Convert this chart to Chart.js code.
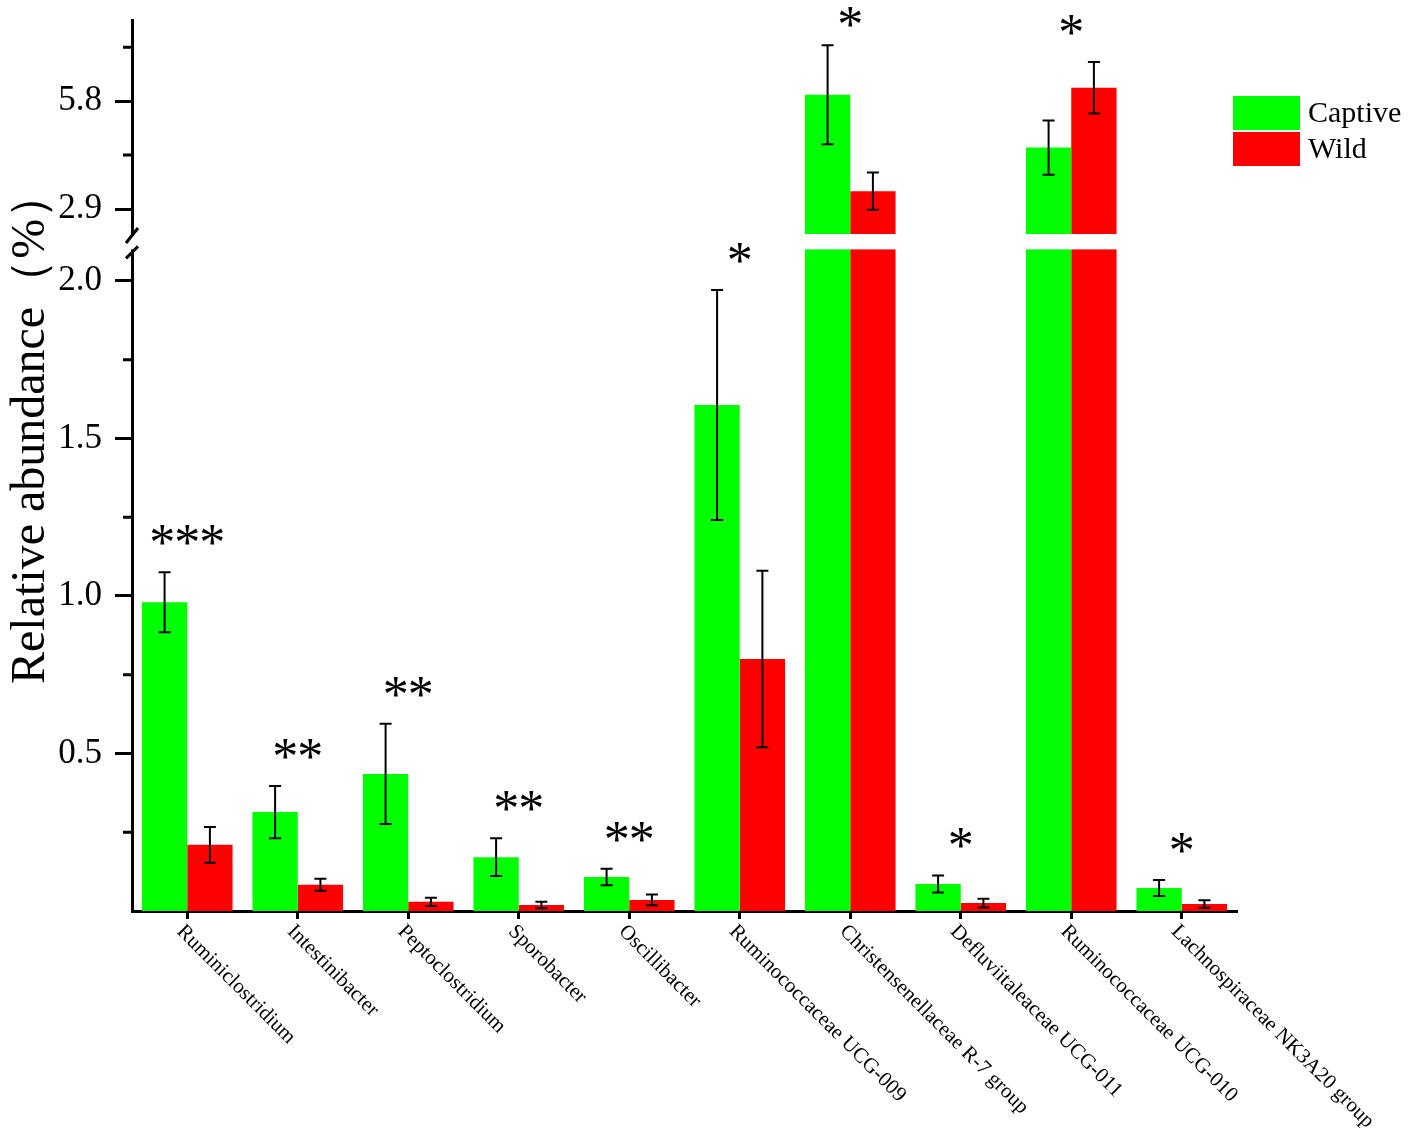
<!DOCTYPE html>
<html>
<head>
<meta charset="utf-8">
<script src="https://cdn.jsdelivr.net/npm/chart.js@4.4.1/dist/chart.umd.min.js"></script>
<style>
  html, body { margin: 0; padding: 0; background: #fff; }
  #wrap { width: 1411px; height: 1137px; }
</style>
</head>
<body>
<div id="wrap"><canvas id="chart" width="1411" height="1137"></canvas></div>
<script>
const genera = ['Ruminiclostridium', 'Intestinibacter', 'Peptoclostridium', 'Sporobacter', 'Oscillibacter',
  'Ruminococcaceae UCG-009', 'Christensenellaceae R-7 group', 'Defluviitaleaceae UCG-011',
  'Ruminococcaceae UCG-010', 'Lachnospiraceae NK3A20 group'];
const captive    = [0.98, 0.314, 0.435, 0.171, 0.108, 1.606, 5.97, 0.086, 4.55, 0.073];
const captiveErr = [0.095, 0.083, 0.159, 0.060, 0.026, 0.365, 1.33, 0.027, 0.73, 0.025];
const wild       = [0.21, 0.083, 0.029, 0.019, 0.035, 0.80, 3.38, 0.025, 6.16, 0.022];
const wildErr    = [0.057, 0.019, 0.013, 0.010, 0.017, 0.28, 0.50, 0.014, 0.69, 0.012];
const stars      = ['***', '**', '**', '**', '**', '*', '*', '*', '*', '*'];

// broken y axis: lower part and upper part
const lowerMin = 0, lowerMax = 2.152, breakTop = 2.1;
const upperMin = 2.255, upperMax = 7.98;
const lowerTicks = [0.5, 1.0, 1.5, 2.0];
const lowerMinor = [0.25, 0.75, 1.25, 1.75];
const upperTicks = [2.9, 5.8];
const upperMinor = [4.35, 7.25];

const GREEN = '#00ff00';
const RED = '#ff0000';
const SERIF = '"Liberation Serif", "Times New Roman", serif';

const extras = {
  id: 'extras',
  beforeDatasetDraw(chart, args){
    const ys = chart.scales[args.meta.yAxisID];
    const a = chart.chartArea;
    const ctx = chart.ctx;
    ctx.save();
    ctx.beginPath();
    ctx.rect(a.left, ys.top, a.right - a.left, ys.bottom - ys.top);
    ctx.clip();
  },
  afterDatasetDraw(chart, args){
    const ctx = chart.ctx;
    const meta = args.meta;
    const ys = chart.scales[meta.yAxisID];
    const ds = chart.data.datasets[args.index];
    ctx.strokeStyle = '#000';
    ctx.lineWidth = 2;
    meta.data.forEach((bar, i) => {
      const v = ds.data[i], e = ds.err[i];
      const yTop = ys.getPixelForValue(v + e);
      const yBot = ys.getPixelForValue(v - e);
      ctx.beginPath();
      ctx.moveTo(bar.x, yBot); ctx.lineTo(bar.x, yTop);
      ctx.moveTo(bar.x - 6, yTop); ctx.lineTo(bar.x + 6, yTop);
      ctx.moveTo(bar.x - 6, yBot); ctx.lineTo(bar.x + 6, yBot);
      ctx.stroke();
    });
    ctx.restore();
  },
  afterDraw(chart){
    const ctx = chart.ctx;
    const a = chart.chartArea;
    const x = chart.scales.x, yl = chart.scales.y, yu = chart.scales.y2;
    ctx.save();

    // gap of the broken axis
    const gapTop = yu.bottom;
    const gapBot = yl.getPixelForValue(breakTop);
    ctx.fillStyle = '#fff';
    ctx.fillRect(a.left - 4, gapTop + 1, a.right - a.left + 4, gapBot - gapTop - 1);
    ctx.strokeStyle = '#000';
    ctx.lineWidth = 3;
    ctx.beginPath();
    ctx.moveTo(a.left - 6, gapTop + 10); ctx.lineTo(a.left + 6, gapTop - 5);
    ctx.moveTo(a.left - 6, gapBot + 9); ctx.lineTo(a.left + 6, gapBot - 3);
    ctx.stroke();

    // minor ticks
    ctx.beginPath();
    lowerMinor.forEach(v => { const p = yl.getPixelForValue(v); ctx.moveTo(a.left - 9, p); ctx.lineTo(a.left, p); });
    upperMinor.forEach(v => { const p = yu.getPixelForValue(v); ctx.moveTo(a.left - 9, p); ctx.lineTo(a.left, p); });
    ctx.stroke();

    // significance stars
    ctx.fillStyle = '#000';
    ctx.font = '52px ' + SERIF;
    ctx.textAlign = 'center';
    ctx.textBaseline = 'alphabetic';
    stars.forEach((s, i) => {
      const top = Math.max(captive[i] + captiveErr[i], wild[i] + wildErr[i]);
      const ys = top > lowerMax ? yu : yl;
      const cy = Math.max(ys.getPixelForValue(top) - 37, 17);
      const cx = x.getPixelForValue(i);
      for (let k = 0; k < s.length; k++) {
        ctx.fillText('*', cx + (k - (s.length - 1) / 2) * 25, cy + 25);
      }
    });

    // rotated category labels
    ctx.font = '21px ' + SERIF;
    ctx.textAlign = 'left';
    ctx.textBaseline = 'top';
    genera.forEach((g, i) => {
      ctx.save();
      ctx.translate(x.getPixelForValue(i), a.bottom + 10);
      ctx.rotate(Math.PI / 4);
      ctx.fillText(g, 0, 0);
      ctx.restore();
    });

    // legend
    ctx.font = '30px ' + SERIF;
    ctx.textBaseline = 'middle';
    chart.data.datasets.slice(0, 2).forEach((ds, i) => {
      const top = 96 + i * 36;
      ctx.fillStyle = ds.backgroundColor;
      ctx.fillRect(1233, top, 67, 34);
      ctx.fillStyle = '#000';
      ctx.fillText(ds.label, 1308, top + 18);
    });

    // y title
    ctx.save();
    ctx.translate(44, 684);
    ctx.rotate(-Math.PI / 2);
    ctx.font = '48px ' + SERIF;
    ctx.textAlign = 'left';
    ctx.textBaseline = 'alphabetic';
    ctx.fillText('Relative abundance（%）', 0, 0);
    ctx.restore();

    ctx.restore();
  }
};

const yCommon = {
  type: 'linear',
  position: 'left',
  stack: 'v',
  stacked: false,
  grid: { display: true, drawOnChartArea: false, drawTicks: true, tickLength: 17, tickWidth: 3, color: '#000' },
  border: { display: true, color: '#000', width: 3 },
  ticks: { color: '#000', font: { family: SERIF, size: 35 }, padding: 13, callback: v => v.toFixed(1) },
  afterFit(scale){ scale.width = 132; scale.paddingTop = 0; scale.paddingBottom = 0; }
};

new Chart(document.getElementById('chart'), {
  type: 'bar',
  data: {
    labels: genera,
    datasets: [
      { label: 'Captive', data: captive, err: captiveErr, backgroundColor: GREEN, stack: 'c', yAxisID: 'y' },
      { label: 'Wild', data: wild, err: wildErr, backgroundColor: RED, stack: 'w', yAxisID: 'y' },
      { label: 'Captive', data: captive, err: captiveErr, backgroundColor: GREEN, stack: 'c', yAxisID: 'y2' },
      { label: 'Wild', data: wild, err: wildErr, backgroundColor: RED, stack: 'w', yAxisID: 'y2' }
    ]
  },
  options: {
    responsive: false,
    animation: false,
    events: [],
    categoryPercentage: 0.82,
    barPercentage: 1,
    borderWidth: 0,
    layout: { padding: { top: 20, right: 174, bottom: 0, left: 0 } },
    plugins: { legend: { display: false }, tooltip: { enabled: false } },
    scales: {
      x: {
        offset: true,
        stacked: true,
        grid: { display: true, offset: false, drawOnChartArea: false, drawTicks: true, tickLength: 8, tickWidth: 3, color: '#000' },
        border: { display: true, color: '#000', width: 3 },
        ticks: { display: false },
        afterFit(scale){ scale.height = 226; }
      },
      y: Object.assign({}, yCommon, {
        min: lowerMin, max: lowerMax, stackWeight: 678,
        afterBuildTicks(scale){ scale.ticks = lowerTicks.map(v => ({ value: v })); }
      }),
      y2: Object.assign({}, yCommon, {
        min: upperMin, max: upperMax, stackWeight: 213,
        afterBuildTicks(scale){ scale.ticks = upperTicks.map(v => ({ value: v })); }
      })
    }
  },
  plugins: [extras]
});
</script>
</body>
</html>
